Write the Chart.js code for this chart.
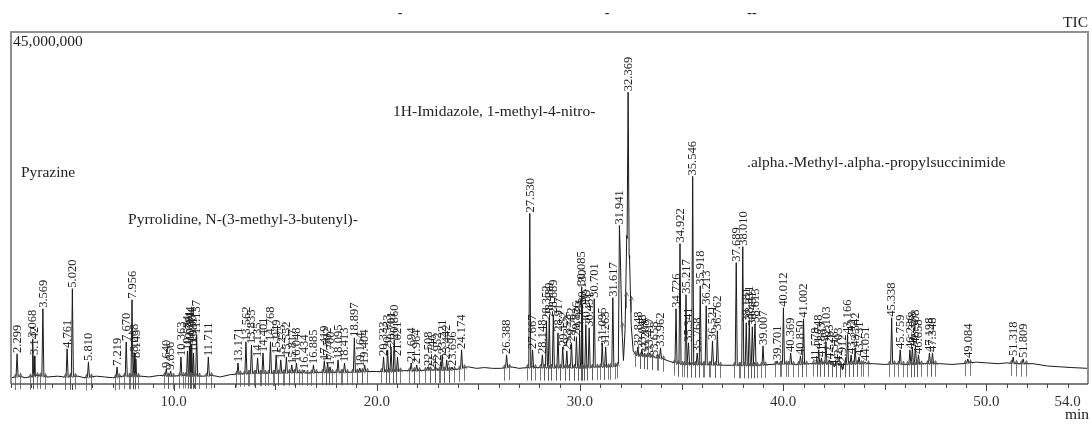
<!DOCTYPE html>
<html><head><meta charset="utf-8">
<script src="https://cdn.jsdelivr.net/npm/chart.js@4.4.1/dist/chart.umd.min.js"></script>
<style>html,body{margin:0;padding:0;background:#fff;}#wrap{width:1092px;height:424px;}</style>
</head><body><div id="wrap"><canvas id="c" width="1092" height="424"></canvas></div>
<script>
// ---- data (time in min, intensity in millions of counts) ----
const xTickValues = [10, 20, 30, 40, 50, 54];
const xTickLabels = ["10.0", "20.0", "30.0", "40.0", "50.0", "54.0"];
const yMaxLabel = "45,000,000";
const yMaxValue = 45;

const peakTimes = [2.299,3.068,3.142,3.569,4.761,5.020,5.810,7.219,7.670,7.956,8.068,8.143,9.640,9.856,10.363,10.684,10.781,10.844,10.904,10.981,11.137,11.711,
13.171,13.562,13.835,14.135,14.401,14.768,15.049,15.275,15.552,15.817,16.048,16.434,16.885,17.419,17.582,17.700,18.095,18.413,18.897,19.164,19.404,
20.333,20.533,20.701,20.860,21.021,21.694,21.964,22.508,22.746,22.952,23.221,23.442,23.696,24.174,26.388,
27.530,27.667,28.148,28.352,28.489,28.689,28.917,29.152,29.352,29.582,29.826,29.984,30.085,30.130,30.289,30.451,30.701,31.095,31.263,31.617,31.941,32.369,
32.848,33.048,33.208,33.417,33.658,33.962,34.726,34.922,35.217,35.341,35.546,35.768,35.918,36.213,36.521,36.762,37.689,38.010,38.181,38.331,38.481,38.613,
39.007,39.701,40.012,40.369,40.850,41.002,41.578,41.748,41.883,42.103,42.283,42.516,42.703,42.912,43.166,43.342,43.542,43.731,44.051,
45.338,45.759,46.236,46.358,46.508,46.658,47.198,47.348,49.084,51.318,51.809];
const peakHeights = [3.85,5.77,3.59,9.62,4.49,12.18,2.82,2.18,5.38,10.77,3.97,3.21,1.92,1.67,3.46,4.23,4.87,5.38,5.13,3.97,6.28,3.46,
2.69,5.38,5.00,3.33,3.97,5.38,3.72,3.08,3.46,2.44,2.69,1.79,2.44,2.95,2.69,2.18,3.08,2.69,5.90,2.05,2.44,
3.46,4.36,4.74,5.64,3.46,2.69,2.44,2.18,1.79,2.05,3.72,3.08,2.18,4.36,3.72,
21.80,4.36,3.72,8.08,8.46,8.85,6.54,4.74,4.23,5.26,6.03,6.28,12.44,10.13,7.56,7.18,10.90,5.26,4.74,11.03,20.26,37.31,
4.74,4.36,3.72,3.97,3.46,4.62,9.62,17.95,11.41,5.26,26.54,3.97,12.56,10.00,5.51,6.79,15.51,17.56,7.82,8.08,7.31,7.69,
4.87,2.95,9.74,3.97,3.59,8.33,2.69,4.36,3.33,5.38,3.08,2.18,2.69,1.79,6.28,3.72,4.62,3.46,2.82,
8.46,4.36,4.36,4.74,5.00,3.72,3.97,3.97,3.21,3.46,3.21];

// background trace (baseline and broad flanks of the largest peaks)
const baseTimes = [2.0,2.4,2.7,3.3,3.8,4.3,4.6,5.3,5.6,6.2,6.6,7.0,7.5,8.4,8.8,9.3,9.9,10.5,11.4,11.9,12.3,12.8,13.3,14.0,15.0,16.0,16.6,17.2,18.0,18.7,19.5,20.0,20.5,21.3,22.0,22.6,23.5,24.0,24.5,24.9,25.3,25.7,26.1,26.6,27.0,27.4,28.0,28.6,29.0,29.6,30.2,30.9,31.4,31.8,31.88,31.99,32.06,32.14,32.22,32.30,32.44,32.52,32.62,32.8,33.0,33.5,34.0,34.4,34.8,35.2,35.8,36.4,37.0,37.5,38.8,39.4,40.0,40.6,41.3,42.0,42.8,43.6,44.4,45.0,45.5,46.0,47.0,47.7,48.3,48.8,49.5,50.0,50.6,51.0,51.6,52.3,53.0,53.6,54.2,55.0];
const baseLevels = [0.8,1.0,0.8,1.1,0.9,1.0,0.9,1.0,0.8,1.0,0.9,0.8,1.0,1.0,0.9,1.1,1.0,1.1,1.0,1.1,0.9,1.2,1.3,1.4,1.4,1.5,1.4,1.5,1.5,1.5,1.6,1.6,1.6,1.7,1.7,1.8,1.8,1.9,2.2,2.0,2.1,2.0,2.0,2.2,2.0,2.1,2.1,2.1,2.1,2.1,2.1,2.2,2.2,2.3,2.6,16.0,7.5,3.0,7.0,19.0,16.0,7.5,4.2,3.6,3.6,3.5,3.3,2.9,2.6,2.5,2.5,2.5,2.4,2.4,2.4,2.5,2.6,2.5,2.6,2.6,2.5,2.6,2.6,2.5,2.6,2.5,2.6,2.6,2.5,2.6,2.8,2.7,2.6,2.7,2.6,2.6,2.3,2.2,2.1,2.0];

const compoundNames = ["Pyrazine", "Pyrrolidine, N-(3-methyl-3-butenyl)-", "1H-Imidazole, 1-methyl-4-nitro-", ".alpha.-Methyl-.alpha.-propylsuccinimide"];
// ---------------------------------------------------------------------------------------

const SERIF = "'Liberation Serif', 'Times New Roman', serif";
const nameAnchors = [[2.49, 26.4], [7.76, 20.5], [20.80, 34.2], [38.22, 27.8]];

function baseAt(t) {
  for (let i = 0; i < baseTimes.length - 1; i++) {
    if (t >= baseTimes[i] && t <= baseTimes[i + 1]) {
      const f = (t - baseTimes[i]) / (baseTimes[i + 1] - baseTimes[i]);
      return baseLevels[i] + f * (baseLevels[i + 1] - baseLevels[i]);
    }
  }
  return baseLevels[baseLevels.length - 1];
}
const halfW = peakTimes.map((t, i) => {
  const prev = i > 0 ? t - peakTimes[i - 1] : 1;
  const next = i < peakTimes.length - 1 ? peakTimes[i + 1] - t : 1;
  return Math.min(0.05, 0.45 * Math.min(prev, next));
});
const trace = [];
baseTimes.forEach((t, i) => {
  if (!peakTimes.some((p, j) => Math.abs(t - p) <= halfW[j] + 0.005)) trace.push({x: t, y: baseLevels[i]});
});
peakTimes.forEach((p, j) => {
  const w = halfW[j];
  trace.push({x: p - w, y: baseAt(p - w)}, {x: p, y: peakHeights[j]}, {x: p + w, y: baseAt(p + w)});
});
trace.sort((a, b) => a.x - b.x);

const decor = {
  id: 'decor',
  afterDatasetsDraw(chart) {
    const ctx = chart.ctx, xs = chart.scales.x, ys = chart.scales.y, ca = chart.chartArea;
    ctx.save();
    // integration markers
    ctx.strokeStyle = '#555'; ctx.lineWidth = 0.8;
    peakTimes.forEach((p, j) => {
      const prev = j > 0 ? p - peakTimes[j - 1] : 1;
      const next = j < peakTimes.length - 1 ? peakTimes[j + 1] - p : 1;
      [p - Math.min(0.12, prev / 2), p + Math.min(0.12, next / 2)].forEach(t => {
        const x = Math.round(xs.getPixelForValue(t)) + 0.5;
        const yb = ys.getPixelForValue(baseAt(t));
        ctx.beginPath();
        ctx.moveTo(x, yb + 13); ctx.lineTo(x, yb - 3);
        ctx.moveTo(x - 2, yb + 1); ctx.lineTo(x, yb - 3); ctx.lineTo(x + 2, yb + 1);
        ctx.stroke();
      });
    });
    // frame
    ctx.strokeStyle = '#8f8f8f'; ctx.lineWidth = 2;
    ctx.beginPath();
    ctx.moveTo(ca.left, ca.bottom); ctx.lineTo(ca.left, ca.top); ctx.lineTo(ca.right, ca.top); ctx.lineTo(ca.right, ca.bottom);
    ctx.stroke();
    ctx.strokeStyle = '#555'; ctx.lineWidth = 1.5;
    ctx.beginPath(); ctx.moveTo(ca.left, ca.bottom); ctx.lineTo(ca.right, ca.bottom); ctx.stroke();
    // axis tick marks
    ctx.lineWidth = 1; ctx.strokeStyle = '#444';
    for (let t = Math.ceil(xs.min); t <= Math.floor(xs.max - 0.5); t++) {
      const x = Math.round(xs.getPixelForValue(t)) + 0.5;
      const len = t % 10 === 0 ? 7 : (t % 5 === 0 ? 6 : 4);
      ctx.beginPath(); ctx.moveTo(x, ca.bottom); ctx.lineTo(x, ca.bottom + len); ctx.stroke();
    }
    // peak retention-time labels
    ctx.fillStyle = '#222'; ctx.font = '12.5px ' + SERIF;
    ctx.textAlign = 'left'; ctx.textBaseline = 'middle';
    peakTimes.forEach((p, j) => {
      const x = xs.getPixelForValue(p), y = ys.getPixelForValue(peakHeights[j]) - 1;
      ctx.save(); ctx.translate(x, y); ctx.rotate(-Math.PI / 2);
      ctx.fillText(p.toFixed(3), 0, 0.5); ctx.restore();
    });
    // compound names
    ctx.font = '15.5px ' + SERIF; ctx.fillStyle = '#222'; ctx.textBaseline = 'alphabetic';
    compoundNames.forEach((n, i) => {
      ctx.fillText(n, xs.getPixelForValue(nameAnchors[i][0]), ys.getPixelForValue(nameAnchors[i][1]));
    });
    // y full-scale label
    ctx.font = '15.5px ' + SERIF; ctx.fillStyle = '#222';
    ctx.fillText(yMaxLabel, ca.left + 2, ys.getPixelForValue(ys.max) + 14);
    // TIC, min, clipped title remnants
    ctx.textAlign = 'right';
    ctx.fillText('TIC', ca.right, ca.top - 5);
    ctx.fillText('min', ca.right + 1, 419);
    ctx.textAlign = 'center'; ctx.font = '14px ' + SERIF;
    ctx.fillText('-', 400, 17); ctx.fillText('-', 607, 17); ctx.fillText('--', 752, 17);
    ctx.restore();
  }
};

new Chart(document.getElementById('c'), {
  type: 'scatter',
  data: { datasets: [{ data: trace, showLine: true, borderColor: '#1a1a1a', borderWidth: 1, pointRadius: 0, tension: 0 }] },
  options: {
    responsive: false, animation: false,
    layout: { padding: { left: 11, top: 32, right: 4, bottom: 4 } },
    plugins: { legend: { display: false }, tooltip: { enabled: false } },
    scales: {
      x: {
        type: 'linear', min: 2.0, max: 55.0,
        grid: { display: false, drawTicks: false }, border: { display: false },
        afterBuildTicks: axis => { axis.ticks = xTickValues.map(v => ({ value: v })); },
        ticks: { autoSkip: false, maxRotation: 0, padding: 9, color: '#333',
          font: { family: SERIF, size: 15 },
          callback: (v, i) => xTickLabels[i] }
      },
      y: { type: 'linear', min: 0, max: yMaxValue, display: false }
    }
  },
  plugins: [decor]
});
</script></body></html>
